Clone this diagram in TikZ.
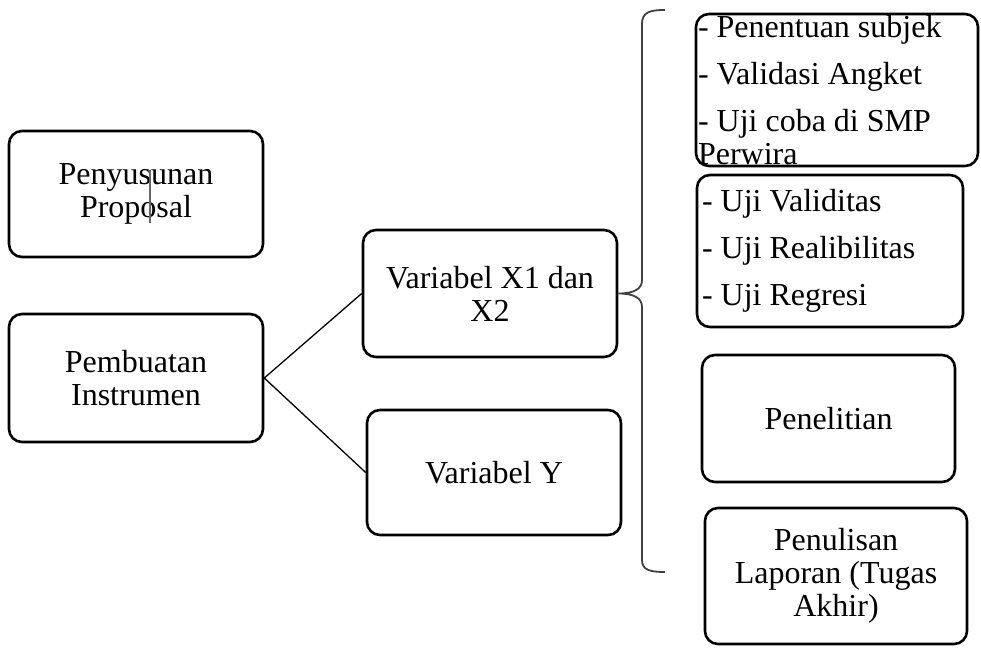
\documentclass[tikz,border=0pt]{standalone}
\usepackage{fontspec}
\setmainfont{Liberation Serif}
\begin{document}
\begin{tikzpicture}[x=0.5pt, y=-0.5pt,
    kotak/.style={draw, line width=1.3pt, rounded corners=6.5pt, align=center,
      font=\fontsize{16}{16.5}\selectfont, inner sep=0pt},
    daftar/.style={kotak, align=flush left}]
    \useasboundingbox (0, 0) rectangle (981, 648);

    % Kotak sebelah kiri
    \node[kotak, minimum width=127pt, minimum height=63pt] (proposal) at (136, 194) {Penyusunan\\Proposal};
    \node[kotak, minimum width=127pt, minimum height=64pt] (instrumen) at (136, 378) {Pembuatan\\Instrumen};

    % Variabel
    \node[kotak, minimum width=127pt, minimum height=63.5pt] (varx) at (490, 293.5) {Variabel X1 dan\\X2};
    \node[kotak, minimum width=127pt, minimum height=62.5pt] (vary) at (494, 472.5) {Variabel Y};

    % Garis penghubung
    \draw[line width=0.65pt] (instrumen.east) -- (varx.west);
    \draw[line width=0.65pt] (instrumen.east) -- (vary.west);

    % Kotak sebelah kanan
    \node[daftar, text width=139pt, inner xsep=1pt, minimum height=76pt] (uji) at (837, 90)
      {- Penentuan subjek\\[7pt]- Validasi Angket\\[7pt]- Uji coba di SMP\\Perwira};
    \node[daftar, text width=128pt, inner xsep=2.5pt, minimum height=76pt] (analisis) at (830, 251)
      {- Uji Validitas\\[7pt]- Uji Realibilitas\\[7pt]- Uji Regresi};
    \node[kotak, minimum width=126.5pt, minimum height=63.5pt] (penelitian) at (828.5, 418.5) {Penelitian};
    \node[kotak, minimum width=131pt, minimum height=68pt] (laporan) at (836, 576) {Penulisan\\Laporan (Tugas\\Akhir)};

    % Kurung kurawal
    \coordinate (kurungatas) at (665, 10);
    \coordinate (kurungbawah) at (665, 572);
    \draw[line width=0.9pt, black!75] (kurungatas) .. controls (650, 10) and (642, 12) .. (642, 24)
      -- (642, 280) .. controls (642, 289) and (634, 293.5) .. (varx.east)
      .. controls (634, 293.5) and (642, 298) .. (642, 307)
      -- (642, 560) .. controls (642, 570) and (650, 572) .. (kurungbawah);

    % Garis kursor
    \draw[black!60, line width=0.6pt] (150, 170) -- (150, 223);
\end{tikzpicture}
\end{document}
